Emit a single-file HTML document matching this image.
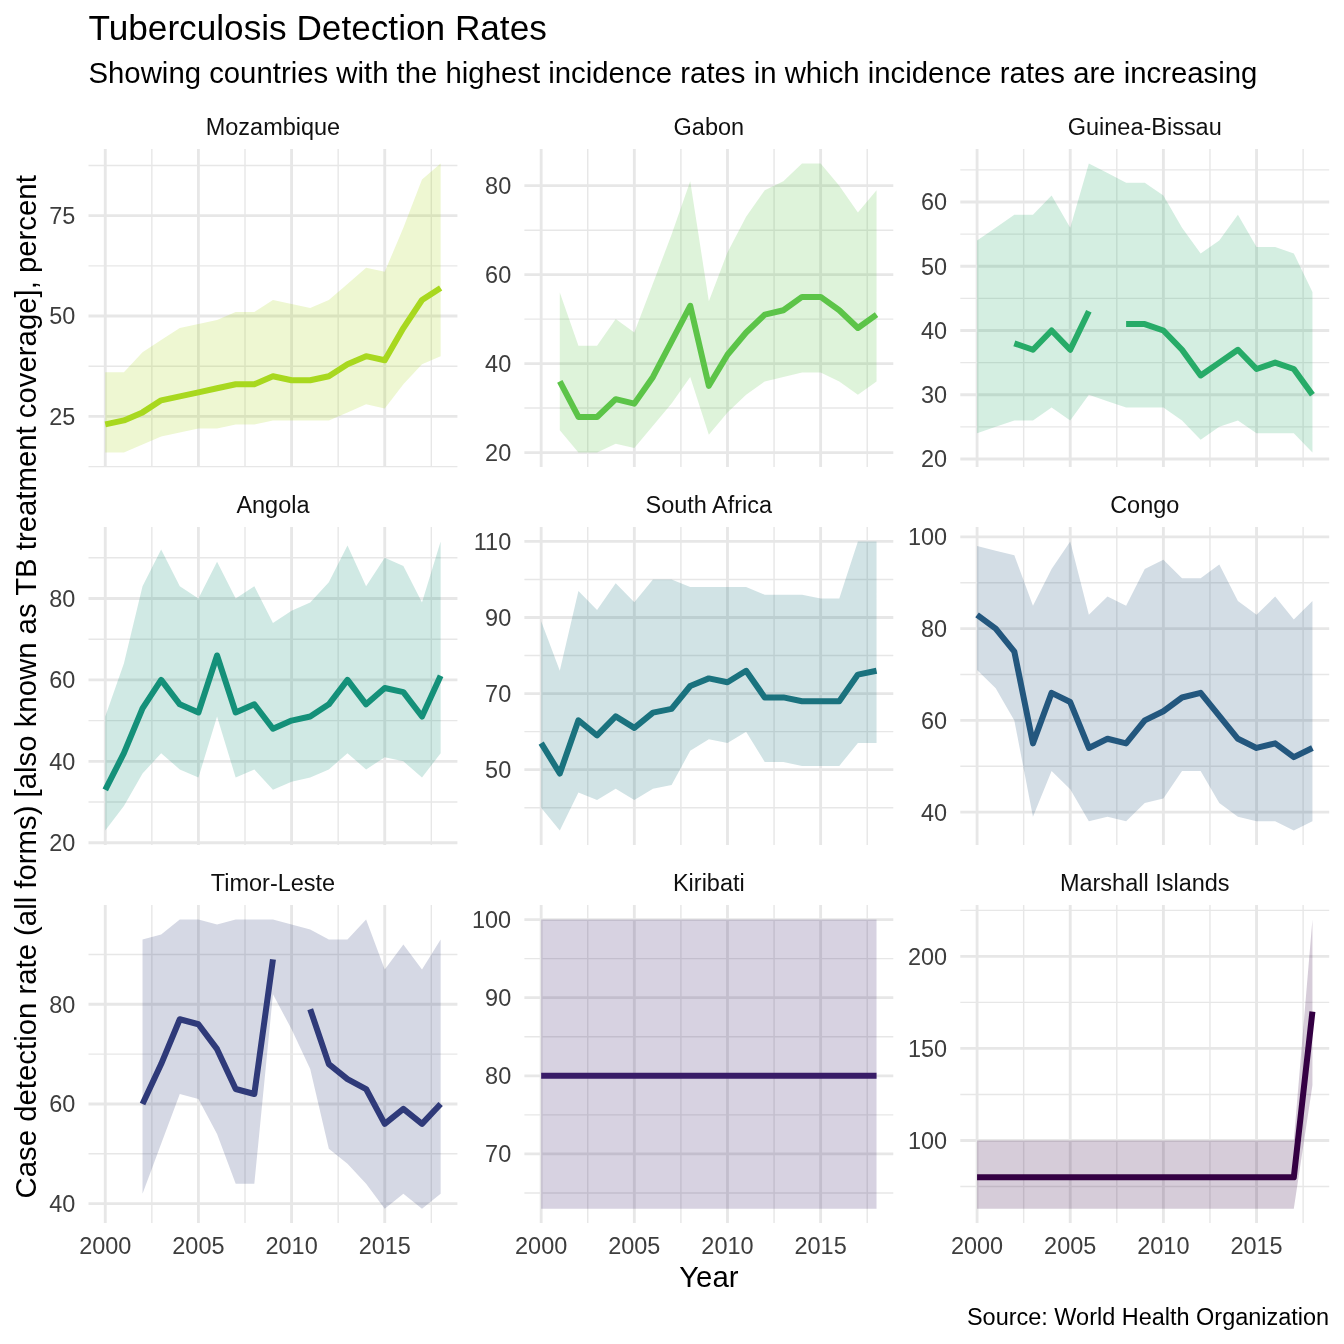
<!DOCTYPE html><html><head><meta charset="utf-8"><style>html,body{margin:0;padding:0;background:#fff;}svg{display:block;will-change:transform;}text{font-family:"Liberation Sans",sans-serif;}</style></head><body>
<svg width="1344" height="1344" viewBox="0 0 1344 1344">
<rect width="1344" height="1344" fill="#fff"/>
<g><line x1="88.5" x2="457.4" y1="466.6" y2="466.6" stroke="#E7E7E7" stroke-width="1.42"/><line x1="88.5" x2="457.4" y1="366.22" y2="366.22" stroke="#E7E7E7" stroke-width="1.42"/><line x1="88.5" x2="457.4" y1="265.84" y2="265.84" stroke="#E7E7E7" stroke-width="1.42"/><line x1="88.5" x2="457.4" y1="165.46" y2="165.46" stroke="#E7E7E7" stroke-width="1.42"/><line x1="151.85" x2="151.85" y1="149" y2="467" stroke="#E7E7E7" stroke-width="1.42"/><line x1="245" x2="245" y1="149" y2="467" stroke="#E7E7E7" stroke-width="1.42"/><line x1="338.16" x2="338.16" y1="149" y2="467" stroke="#E7E7E7" stroke-width="1.42"/><line x1="431.32" x2="431.32" y1="149" y2="467" stroke="#E7E7E7" stroke-width="1.42"/><line x1="88.5" x2="457.4" y1="416.41" y2="416.41" stroke="#E7E7E7" stroke-width="2.845"/><line x1="88.5" x2="457.4" y1="316.03" y2="316.03" stroke="#E7E7E7" stroke-width="2.845"/><line x1="88.5" x2="457.4" y1="215.65" y2="215.65" stroke="#E7E7E7" stroke-width="2.845"/><line x1="105.27" x2="105.27" y1="149" y2="467" stroke="#E7E7E7" stroke-width="2.845"/><line x1="198.42" x2="198.42" y1="149" y2="467" stroke="#E7E7E7" stroke-width="2.845"/><line x1="291.58" x2="291.58" y1="149" y2="467" stroke="#E7E7E7" stroke-width="2.845"/><line x1="384.74" x2="384.74" y1="149" y2="467" stroke="#E7E7E7" stroke-width="2.845"/><path d="M105.27,372.24 L123.9,372.24 L142.53,352.17 L161.16,340.12 L179.79,328.08 L198.42,324.06 L217.06,320.05 L235.69,312.02 L254.32,312.02 L272.95,299.97 L291.58,303.98 L310.21,308 L328.84,299.97 L347.48,283.91 L366.11,267.85 L384.74,271.86 L403.37,227.7 L422,179.52 L440.63,163.45 L440.63,356.18 L422,364.21 L403.37,384.29 L384.74,408.38 L366.11,404.36 L347.48,412.39 L328.84,420.42 L310.21,420.42 L291.58,420.42 L272.95,420.42 L254.32,424.44 L235.69,424.44 L217.06,428.45 L198.42,428.45 L179.79,432.47 L161.16,436.48 L142.53,444.52 L123.9,452.55 L105.27,452.55Z" fill="#A8D81F" fill-opacity="0.200"/><path d="M105.27,424.44 L123.9,420.42 L142.53,412.39 L161.16,400.35 L179.79,396.33 L198.42,392.32 L217.06,388.3 L235.69,384.29 L254.32,384.29 L272.95,376.26 L291.58,380.27 L310.21,380.27 L328.84,376.26 L347.48,364.21 L366.11,356.18 L384.74,360.2 L403.37,328.08 L422,299.97 L440.63,287.92" fill="none" stroke="#A8D81F" stroke-width="6.0" stroke-linejoin="round" stroke-linecap="butt"/><text x="75.3" y="424.81" font-size="23.47" fill="#3D3D3D" text-anchor="end">25</text><text x="75.3" y="324.43" font-size="23.47" fill="#3D3D3D" text-anchor="end">50</text><text x="75.3" y="224.05" font-size="23.47" fill="#3D3D3D" text-anchor="end">75</text><text x="272.95" y="135" font-size="23.47" fill="#101010" text-anchor="middle">Mozambique</text></g>
<g><line x1="524.4" x2="893.3" y1="408.07" y2="408.07" stroke="#E7E7E7" stroke-width="1.42"/><line x1="524.4" x2="893.3" y1="319.12" y2="319.12" stroke="#E7E7E7" stroke-width="1.42"/><line x1="524.4" x2="893.3" y1="230.17" y2="230.17" stroke="#E7E7E7" stroke-width="1.42"/><line x1="587.75" x2="587.75" y1="149" y2="467" stroke="#E7E7E7" stroke-width="1.42"/><line x1="680.9" x2="680.9" y1="149" y2="467" stroke="#E7E7E7" stroke-width="1.42"/><line x1="774.06" x2="774.06" y1="149" y2="467" stroke="#E7E7E7" stroke-width="1.42"/><line x1="867.22" x2="867.22" y1="149" y2="467" stroke="#E7E7E7" stroke-width="1.42"/><line x1="524.4" x2="893.3" y1="452.55" y2="452.55" stroke="#E7E7E7" stroke-width="2.845"/><line x1="524.4" x2="893.3" y1="363.59" y2="363.59" stroke="#E7E7E7" stroke-width="2.845"/><line x1="524.4" x2="893.3" y1="274.64" y2="274.64" stroke="#E7E7E7" stroke-width="2.845"/><line x1="524.4" x2="893.3" y1="185.69" y2="185.69" stroke="#E7E7E7" stroke-width="2.845"/><line x1="541.17" x2="541.17" y1="149" y2="467" stroke="#E7E7E7" stroke-width="2.845"/><line x1="634.32" x2="634.32" y1="149" y2="467" stroke="#E7E7E7" stroke-width="2.845"/><line x1="727.48" x2="727.48" y1="149" y2="467" stroke="#E7E7E7" stroke-width="2.845"/><line x1="820.64" x2="820.64" y1="149" y2="467" stroke="#E7E7E7" stroke-width="2.845"/><path d="M559.8,292.43 L578.43,345.8 L597.06,345.8 L615.69,319.12 L634.32,332.46 L652.96,283.54 L671.59,234.62 L690.22,181.24 L708.85,301.33 L727.48,252.41 L746.11,216.83 L764.74,190.14 L783.38,181.24 L802.01,163.45 L820.64,163.45 L839.27,185.69 L857.9,212.38 L876.53,190.14 L876.53,381.38 L857.9,394.73 L839.27,381.38 L820.64,372.49 L802.01,372.49 L783.38,376.94 L764.74,381.38 L746.11,394.73 L727.48,412.52 L708.85,434.76 L690.22,376.94 L671.59,403.62 L652.96,425.86 L634.32,448.1 L615.69,443.65 L597.06,452.55 L578.43,452.55 L559.8,430.31Z" fill="#5CC448" fill-opacity="0.200"/><path d="M559.8,381.38 L578.43,416.97 L597.06,416.97 L615.69,399.17 L634.32,403.62 L652.96,376.94 L671.59,341.36 L690.22,305.78 L708.85,385.83 L727.48,354.7 L746.11,332.46 L764.74,314.67 L783.38,310.22 L802.01,296.88 L820.64,296.88 L839.27,310.22 L857.9,328.01 L876.53,314.67" fill="none" stroke="#5CC448" stroke-width="6.0" stroke-linejoin="round" stroke-linecap="butt"/><text x="511.2" y="460.95" font-size="23.47" fill="#3D3D3D" text-anchor="end">20</text><text x="511.2" y="371.99" font-size="23.47" fill="#3D3D3D" text-anchor="end">40</text><text x="511.2" y="283.04" font-size="23.47" fill="#3D3D3D" text-anchor="end">60</text><text x="511.2" y="194.09" font-size="23.47" fill="#3D3D3D" text-anchor="end">80</text><text x="708.85" y="135" font-size="23.47" fill="#101010" text-anchor="middle">Gabon</text></g>
<g><line x1="960.3" x2="1329.2" y1="426.85" y2="426.85" stroke="#E7E7E7" stroke-width="1.42"/><line x1="960.3" x2="1329.2" y1="362.61" y2="362.61" stroke="#E7E7E7" stroke-width="1.42"/><line x1="960.3" x2="1329.2" y1="298.36" y2="298.36" stroke="#E7E7E7" stroke-width="1.42"/><line x1="960.3" x2="1329.2" y1="234.12" y2="234.12" stroke="#E7E7E7" stroke-width="1.42"/><line x1="960.3" x2="1329.2" y1="169.88" y2="169.88" stroke="#E7E7E7" stroke-width="1.42"/><line x1="1023.65" x2="1023.65" y1="149" y2="467" stroke="#E7E7E7" stroke-width="1.42"/><line x1="1116.8" x2="1116.8" y1="149" y2="467" stroke="#E7E7E7" stroke-width="1.42"/><line x1="1209.96" x2="1209.96" y1="149" y2="467" stroke="#E7E7E7" stroke-width="1.42"/><line x1="1303.12" x2="1303.12" y1="149" y2="467" stroke="#E7E7E7" stroke-width="1.42"/><line x1="960.3" x2="1329.2" y1="458.97" y2="458.97" stroke="#E7E7E7" stroke-width="2.845"/><line x1="960.3" x2="1329.2" y1="394.73" y2="394.73" stroke="#E7E7E7" stroke-width="2.845"/><line x1="960.3" x2="1329.2" y1="330.48" y2="330.48" stroke="#E7E7E7" stroke-width="2.845"/><line x1="960.3" x2="1329.2" y1="266.24" y2="266.24" stroke="#E7E7E7" stroke-width="2.845"/><line x1="960.3" x2="1329.2" y1="202" y2="202" stroke="#E7E7E7" stroke-width="2.845"/><line x1="977.07" x2="977.07" y1="149" y2="467" stroke="#E7E7E7" stroke-width="2.845"/><line x1="1070.22" x2="1070.22" y1="149" y2="467" stroke="#E7E7E7" stroke-width="2.845"/><line x1="1163.38" x2="1163.38" y1="149" y2="467" stroke="#E7E7E7" stroke-width="2.845"/><line x1="1256.54" x2="1256.54" y1="149" y2="467" stroke="#E7E7E7" stroke-width="2.845"/><path d="M977.07,240.55 L995.7,227.7 L1014.33,214.85 L1032.96,214.85 L1051.59,195.58 L1070.22,227.7 L1088.86,163.45 L1107.49,173.09 L1126.12,182.73 L1144.75,182.73 L1163.38,195.58 L1182.01,227.7 L1200.64,253.39 L1219.28,240.55 L1237.91,214.85 L1256.54,246.97 L1275.17,246.97 L1293.8,253.39 L1312.43,291.94 L1312.43,452.55 L1293.8,433.27 L1275.17,433.27 L1256.54,433.27 L1237.91,420.42 L1219.28,426.85 L1200.64,439.7 L1182.01,420.42 L1163.38,407.58 L1144.75,407.58 L1126.12,407.58 L1107.49,401.15 L1088.86,394.73 L1070.22,420.42 L1051.59,407.58 L1032.96,420.42 L1014.33,420.42 L995.7,426.85 L977.07,433.27Z" fill="#27AB68" fill-opacity="0.200"/><path d="M1014.33,343.33 L1032.96,349.76 L1051.59,330.48 L1070.22,349.76 L1088.86,311.21" fill="none" stroke="#27AB68" stroke-width="6.0" stroke-linejoin="round" stroke-linecap="butt"/><path d="M1126.12,324.06 L1144.75,324.06 L1163.38,330.48 L1182.01,349.76 L1200.64,375.45 L1219.28,362.61 L1237.91,349.76 L1256.54,369.03 L1275.17,362.61 L1293.8,369.03 L1312.43,394.73" fill="none" stroke="#27AB68" stroke-width="6.0" stroke-linejoin="round" stroke-linecap="butt"/><text x="947.1" y="467.37" font-size="23.47" fill="#3D3D3D" text-anchor="end">20</text><text x="947.1" y="403.13" font-size="23.47" fill="#3D3D3D" text-anchor="end">30</text><text x="947.1" y="338.88" font-size="23.47" fill="#3D3D3D" text-anchor="end">40</text><text x="947.1" y="274.64" font-size="23.47" fill="#3D3D3D" text-anchor="end">50</text><text x="947.1" y="210.4" font-size="23.47" fill="#3D3D3D" text-anchor="end">60</text><text x="1144.75" y="135" font-size="23.47" fill="#101010" text-anchor="middle">Guinea-Bissau</text></g>
<g><line x1="88.5" x2="457.4" y1="802.04" y2="802.04" stroke="#E7E7E7" stroke-width="1.42"/><line x1="88.5" x2="457.4" y1="720.61" y2="720.61" stroke="#E7E7E7" stroke-width="1.42"/><line x1="88.5" x2="457.4" y1="639.18" y2="639.18" stroke="#E7E7E7" stroke-width="1.42"/><line x1="88.5" x2="457.4" y1="557.74" y2="557.74" stroke="#E7E7E7" stroke-width="1.42"/><line x1="151.85" x2="151.85" y1="527" y2="845" stroke="#E7E7E7" stroke-width="1.42"/><line x1="245" x2="245" y1="527" y2="845" stroke="#E7E7E7" stroke-width="1.42"/><line x1="338.16" x2="338.16" y1="527" y2="845" stroke="#E7E7E7" stroke-width="1.42"/><line x1="431.32" x2="431.32" y1="527" y2="845" stroke="#E7E7E7" stroke-width="1.42"/><line x1="88.5" x2="457.4" y1="842.76" y2="842.76" stroke="#E7E7E7" stroke-width="2.845"/><line x1="88.5" x2="457.4" y1="761.33" y2="761.33" stroke="#E7E7E7" stroke-width="2.845"/><line x1="88.5" x2="457.4" y1="679.89" y2="679.89" stroke="#E7E7E7" stroke-width="2.845"/><line x1="88.5" x2="457.4" y1="598.46" y2="598.46" stroke="#E7E7E7" stroke-width="2.845"/><line x1="105.27" x2="105.27" y1="527" y2="845" stroke="#E7E7E7" stroke-width="2.845"/><line x1="198.42" x2="198.42" y1="527" y2="845" stroke="#E7E7E7" stroke-width="2.845"/><line x1="291.58" x2="291.58" y1="527" y2="845" stroke="#E7E7E7" stroke-width="2.845"/><line x1="384.74" x2="384.74" y1="527" y2="845" stroke="#E7E7E7" stroke-width="2.845"/><path d="M105.27,716.54 L123.9,663.61 L142.53,586.24 L161.16,549.6 L179.79,586.24 L198.42,598.46 L217.06,561.81 L235.69,598.46 L254.32,586.24 L272.95,622.89 L291.58,610.67 L310.21,602.53 L328.84,582.17 L347.48,545.53 L366.11,586.24 L384.74,557.74 L403.37,565.88 L422,602.53 L440.63,541.45 L440.63,753.18 L422,777.61 L403.37,761.33 L384.74,757.25 L366.11,769.47 L347.48,753.18 L328.84,769.47 L310.21,777.61 L291.58,781.69 L272.95,789.83 L254.32,769.47 L235.69,777.61 L217.06,716.54 L198.42,777.61 L179.79,769.47 L161.16,753.18 L142.53,773.54 L123.9,806.12 L105.27,830.55Z" fill="#149079" fill-opacity="0.200"/><path d="M105.27,789.83 L123.9,753.18 L142.53,708.39 L161.16,679.89 L179.79,704.32 L198.42,712.47 L217.06,655.46 L235.69,712.47 L254.32,704.32 L272.95,728.75 L291.58,720.61 L310.21,716.54 L328.84,704.32 L347.48,679.89 L366.11,704.32 L384.74,688.04 L403.37,692.11 L422,716.54 L440.63,675.82" fill="none" stroke="#149079" stroke-width="6.0" stroke-linejoin="round" stroke-linecap="butt"/><text x="75.3" y="851.16" font-size="23.47" fill="#3D3D3D" text-anchor="end">20</text><text x="75.3" y="769.73" font-size="23.47" fill="#3D3D3D" text-anchor="end">40</text><text x="75.3" y="688.29" font-size="23.47" fill="#3D3D3D" text-anchor="end">60</text><text x="75.3" y="606.86" font-size="23.47" fill="#3D3D3D" text-anchor="end">80</text><text x="272.95" y="513" font-size="23.47" fill="#101010" text-anchor="middle">Angola</text></g>
<g><line x1="524.4" x2="893.3" y1="807.72" y2="807.72" stroke="#E7E7E7" stroke-width="1.42"/><line x1="524.4" x2="893.3" y1="731.65" y2="731.65" stroke="#E7E7E7" stroke-width="1.42"/><line x1="524.4" x2="893.3" y1="655.57" y2="655.57" stroke="#E7E7E7" stroke-width="1.42"/><line x1="524.4" x2="893.3" y1="579.49" y2="579.49" stroke="#E7E7E7" stroke-width="1.42"/><line x1="587.75" x2="587.75" y1="527" y2="845" stroke="#E7E7E7" stroke-width="1.42"/><line x1="680.9" x2="680.9" y1="527" y2="845" stroke="#E7E7E7" stroke-width="1.42"/><line x1="774.06" x2="774.06" y1="527" y2="845" stroke="#E7E7E7" stroke-width="1.42"/><line x1="867.22" x2="867.22" y1="527" y2="845" stroke="#E7E7E7" stroke-width="1.42"/><line x1="524.4" x2="893.3" y1="769.68" y2="769.68" stroke="#E7E7E7" stroke-width="2.845"/><line x1="524.4" x2="893.3" y1="693.61" y2="693.61" stroke="#E7E7E7" stroke-width="2.845"/><line x1="524.4" x2="893.3" y1="617.53" y2="617.53" stroke="#E7E7E7" stroke-width="2.845"/><line x1="524.4" x2="893.3" y1="541.45" y2="541.45" stroke="#E7E7E7" stroke-width="2.845"/><line x1="541.17" x2="541.17" y1="527" y2="845" stroke="#E7E7E7" stroke-width="2.845"/><line x1="634.32" x2="634.32" y1="527" y2="845" stroke="#E7E7E7" stroke-width="2.845"/><line x1="727.48" x2="727.48" y1="527" y2="845" stroke="#E7E7E7" stroke-width="2.845"/><line x1="820.64" x2="820.64" y1="527" y2="845" stroke="#E7E7E7" stroke-width="2.845"/><path d="M541.17,621.33 L559.8,670.78 L578.43,590.9 L597.06,609.92 L615.69,583.3 L634.32,602.32 L652.96,579.49 L671.59,579.49 L690.22,587.1 L708.85,587.1 L727.48,587.1 L746.11,587.1 L764.74,594.71 L783.38,594.71 L802.01,594.71 L820.64,598.51 L839.27,598.51 L857.9,541.45 L876.53,541.45 L876.53,743.06 L857.9,743.06 L839.27,765.88 L820.64,765.88 L802.01,765.88 L783.38,762.08 L764.74,762.08 L746.11,731.65 L727.48,743.06 L708.85,739.25 L690.22,750.67 L671.59,784.9 L652.96,788.7 L634.32,800.11 L615.69,788.7 L597.06,800.11 L578.43,792.51 L559.8,830.55 L541.17,807.72Z" fill="#1A727E" fill-opacity="0.200"/><path d="M541.17,743.06 L559.8,773.49 L578.43,720.23 L597.06,735.45 L615.69,716.43 L634.32,727.84 L652.96,712.63 L671.59,708.82 L690.22,686 L708.85,678.39 L727.48,682.2 L746.11,670.78 L764.74,697.41 L783.38,697.41 L802.01,701.22 L820.64,701.22 L839.27,701.22 L857.9,674.59 L876.53,670.78" fill="none" stroke="#1A727E" stroke-width="6.0" stroke-linejoin="round" stroke-linecap="butt"/><text x="511.2" y="778.08" font-size="23.47" fill="#3D3D3D" text-anchor="end">50</text><text x="511.2" y="702.01" font-size="23.47" fill="#3D3D3D" text-anchor="end">70</text><text x="511.2" y="625.93" font-size="23.47" fill="#3D3D3D" text-anchor="end">90</text><text x="511.2" y="549.85" font-size="23.47" fill="#3D3D3D" text-anchor="end">110</text><text x="708.85" y="513" font-size="23.47" fill="#101010" text-anchor="middle">South Africa</text></g>
<g><line x1="960.3" x2="1329.2" y1="766.3" y2="766.3" stroke="#E7E7E7" stroke-width="1.42"/><line x1="960.3" x2="1329.2" y1="674.53" y2="674.53" stroke="#E7E7E7" stroke-width="1.42"/><line x1="960.3" x2="1329.2" y1="582.75" y2="582.75" stroke="#E7E7E7" stroke-width="1.42"/><line x1="1023.65" x2="1023.65" y1="527" y2="845" stroke="#E7E7E7" stroke-width="1.42"/><line x1="1116.8" x2="1116.8" y1="527" y2="845" stroke="#E7E7E7" stroke-width="1.42"/><line x1="1209.96" x2="1209.96" y1="527" y2="845" stroke="#E7E7E7" stroke-width="1.42"/><line x1="1303.12" x2="1303.12" y1="527" y2="845" stroke="#E7E7E7" stroke-width="1.42"/><line x1="960.3" x2="1329.2" y1="812.19" y2="812.19" stroke="#E7E7E7" stroke-width="2.845"/><line x1="960.3" x2="1329.2" y1="720.42" y2="720.42" stroke="#E7E7E7" stroke-width="2.845"/><line x1="960.3" x2="1329.2" y1="628.64" y2="628.64" stroke="#E7E7E7" stroke-width="2.845"/><line x1="960.3" x2="1329.2" y1="536.87" y2="536.87" stroke="#E7E7E7" stroke-width="2.845"/><line x1="977.07" x2="977.07" y1="527" y2="845" stroke="#E7E7E7" stroke-width="2.845"/><line x1="1070.22" x2="1070.22" y1="527" y2="845" stroke="#E7E7E7" stroke-width="2.845"/><line x1="1163.38" x2="1163.38" y1="527" y2="845" stroke="#E7E7E7" stroke-width="2.845"/><line x1="1256.54" x2="1256.54" y1="527" y2="845" stroke="#E7E7E7" stroke-width="2.845"/><path d="M977.07,546.04 L995.7,550.63 L1014.33,555.22 L1032.96,605.7 L1051.59,568.99 L1070.22,541.45 L1088.86,614.87 L1107.49,596.52 L1126.12,605.7 L1144.75,568.99 L1163.38,559.81 L1182.01,578.16 L1200.64,578.16 L1219.28,564.4 L1237.91,601.11 L1256.54,614.87 L1275.17,596.52 L1293.8,619.46 L1312.43,601.11 L1312.43,821.37 L1293.8,830.55 L1275.17,821.37 L1256.54,821.37 L1237.91,816.78 L1219.28,803.01 L1200.64,770.89 L1182.01,770.89 L1163.38,798.42 L1144.75,803.01 L1126.12,821.37 L1107.49,816.78 L1088.86,821.37 L1070.22,789.25 L1051.59,770.89 L1032.96,816.78 L1014.33,720.42 L995.7,688.29 L977.07,669.94Z" fill="#23577E" fill-opacity="0.200"/><path d="M977.07,614.87 L995.7,628.64 L1014.33,651.58 L1032.96,743.36 L1051.59,692.88 L1070.22,702.06 L1088.86,747.95 L1107.49,738.77 L1126.12,743.36 L1144.75,720.42 L1163.38,711.24 L1182.01,697.47 L1200.64,692.88 L1219.28,715.83 L1237.91,738.77 L1256.54,747.95 L1275.17,743.36 L1293.8,757.13 L1312.43,747.95" fill="none" stroke="#23577E" stroke-width="6.0" stroke-linejoin="round" stroke-linecap="butt"/><text x="947.1" y="820.59" font-size="23.47" fill="#3D3D3D" text-anchor="end">40</text><text x="947.1" y="728.82" font-size="23.47" fill="#3D3D3D" text-anchor="end">60</text><text x="947.1" y="637.04" font-size="23.47" fill="#3D3D3D" text-anchor="end">80</text><text x="947.1" y="545.27" font-size="23.47" fill="#3D3D3D" text-anchor="end">100</text><text x="1144.75" y="513" font-size="23.47" fill="#101010" text-anchor="middle">Congo</text></g>
<g><line x1="88.5" x2="457.4" y1="1153.82" y2="1153.82" stroke="#E7E7E7" stroke-width="1.42"/><line x1="88.5" x2="457.4" y1="1054.13" y2="1054.13" stroke="#E7E7E7" stroke-width="1.42"/><line x1="88.5" x2="457.4" y1="954.44" y2="954.44" stroke="#E7E7E7" stroke-width="1.42"/><line x1="151.85" x2="151.85" y1="905.1" y2="1223.1" stroke="#E7E7E7" stroke-width="1.42"/><line x1="245" x2="245" y1="905.1" y2="1223.1" stroke="#E7E7E7" stroke-width="1.42"/><line x1="338.16" x2="338.16" y1="905.1" y2="1223.1" stroke="#E7E7E7" stroke-width="1.42"/><line x1="431.32" x2="431.32" y1="905.1" y2="1223.1" stroke="#E7E7E7" stroke-width="1.42"/><line x1="88.5" x2="457.4" y1="1203.66" y2="1203.66" stroke="#E7E7E7" stroke-width="2.845"/><line x1="88.5" x2="457.4" y1="1103.97" y2="1103.97" stroke="#E7E7E7" stroke-width="2.845"/><line x1="88.5" x2="457.4" y1="1004.29" y2="1004.29" stroke="#E7E7E7" stroke-width="2.845"/><line x1="105.27" x2="105.27" y1="905.1" y2="1223.1" stroke="#E7E7E7" stroke-width="2.845"/><line x1="198.42" x2="198.42" y1="905.1" y2="1223.1" stroke="#E7E7E7" stroke-width="2.845"/><line x1="291.58" x2="291.58" y1="905.1" y2="1223.1" stroke="#E7E7E7" stroke-width="2.845"/><line x1="384.74" x2="384.74" y1="905.1" y2="1223.1" stroke="#E7E7E7" stroke-width="2.845"/><path d="M142.53,939.49 L161.16,934.51 L179.79,919.55 L198.42,919.55 L217.06,924.54 L235.69,919.55 L254.32,919.55 L272.95,919.55 L291.58,924.54 L310.21,929.52 L328.84,939.49 L347.48,939.49 L366.11,919.55 L384.74,969.4 L403.37,944.48 L422,969.4 L440.63,939.49 L440.63,1193.69 L422,1208.65 L403.37,1193.69 L384.74,1208.65 L366.11,1183.72 L347.48,1163.79 L328.84,1148.83 L310.21,1069.08 L291.58,1029.21 L272.95,994.32 L254.32,1183.72 L235.69,1183.72 L217.06,1133.88 L198.42,1098.99 L179.79,1094.01 L161.16,1143.85 L142.53,1193.69Z" fill="#2F3A79" fill-opacity="0.200"/><path d="M142.53,1103.97 L161.16,1064.1 L179.79,1019.24 L198.42,1024.23 L217.06,1049.15 L235.69,1089.02 L254.32,1094.01 L272.95,959.43" fill="none" stroke="#2F3A79" stroke-width="6.0" stroke-linejoin="round" stroke-linecap="butt"/><path d="M310.21,1009.27 L328.84,1064.1 L347.48,1079.05 L366.11,1089.02 L384.74,1123.91 L403.37,1108.96 L422,1123.91 L440.63,1103.97" fill="none" stroke="#2F3A79" stroke-width="6.0" stroke-linejoin="round" stroke-linecap="butt"/><text x="75.3" y="1212.06" font-size="23.47" fill="#3D3D3D" text-anchor="end">40</text><text x="75.3" y="1112.37" font-size="23.47" fill="#3D3D3D" text-anchor="end">60</text><text x="75.3" y="1012.69" font-size="23.47" fill="#3D3D3D" text-anchor="end">80</text><text x="272.95" y="891.1" font-size="23.47" fill="#101010" text-anchor="middle">Timor-Leste</text><text x="105.27" y="1254.2" font-size="23.47" fill="#3D3D3D" text-anchor="middle">2000</text><text x="198.42" y="1254.2" font-size="23.47" fill="#3D3D3D" text-anchor="middle">2005</text><text x="291.58" y="1254.2" font-size="23.47" fill="#3D3D3D" text-anchor="middle">2010</text><text x="384.74" y="1254.2" font-size="23.47" fill="#3D3D3D" text-anchor="middle">2015</text></g>
<g><line x1="524.4" x2="893.3" y1="1193.02" y2="1193.02" stroke="#E7E7E7" stroke-width="1.42"/><line x1="524.4" x2="893.3" y1="1114.89" y2="1114.89" stroke="#E7E7E7" stroke-width="1.42"/><line x1="524.4" x2="893.3" y1="1036.75" y2="1036.75" stroke="#E7E7E7" stroke-width="1.42"/><line x1="524.4" x2="893.3" y1="958.62" y2="958.62" stroke="#E7E7E7" stroke-width="1.42"/><line x1="587.75" x2="587.75" y1="905.1" y2="1223.1" stroke="#E7E7E7" stroke-width="1.42"/><line x1="680.9" x2="680.9" y1="905.1" y2="1223.1" stroke="#E7E7E7" stroke-width="1.42"/><line x1="774.06" x2="774.06" y1="905.1" y2="1223.1" stroke="#E7E7E7" stroke-width="1.42"/><line x1="867.22" x2="867.22" y1="905.1" y2="1223.1" stroke="#E7E7E7" stroke-width="1.42"/><line x1="524.4" x2="893.3" y1="1153.95" y2="1153.95" stroke="#E7E7E7" stroke-width="2.845"/><line x1="524.4" x2="893.3" y1="1075.82" y2="1075.82" stroke="#E7E7E7" stroke-width="2.845"/><line x1="524.4" x2="893.3" y1="997.69" y2="997.69" stroke="#E7E7E7" stroke-width="2.845"/><line x1="524.4" x2="893.3" y1="919.55" y2="919.55" stroke="#E7E7E7" stroke-width="2.845"/><line x1="541.17" x2="541.17" y1="905.1" y2="1223.1" stroke="#E7E7E7" stroke-width="2.845"/><line x1="634.32" x2="634.32" y1="905.1" y2="1223.1" stroke="#E7E7E7" stroke-width="2.845"/><line x1="727.48" x2="727.48" y1="905.1" y2="1223.1" stroke="#E7E7E7" stroke-width="2.845"/><line x1="820.64" x2="820.64" y1="905.1" y2="1223.1" stroke="#E7E7E7" stroke-width="2.845"/><path d="M541.17,919.55 L559.8,919.55 L578.43,919.55 L597.06,919.55 L615.69,919.55 L634.32,919.55 L652.96,919.55 L671.59,919.55 L690.22,919.55 L708.85,919.55 L727.48,919.55 L746.11,919.55 L764.74,919.55 L783.38,919.55 L802.01,919.55 L820.64,919.55 L839.27,919.55 L857.9,919.55 L876.53,919.55 L876.53,1208.65 L857.9,1208.65 L839.27,1208.65 L820.64,1208.65 L802.01,1208.65 L783.38,1208.65 L764.74,1208.65 L746.11,1208.65 L727.48,1208.65 L708.85,1208.65 L690.22,1208.65 L671.59,1208.65 L652.96,1208.65 L634.32,1208.65 L615.69,1208.65 L597.06,1208.65 L578.43,1208.65 L559.8,1208.65 L541.17,1208.65Z" fill="#381C67" fill-opacity="0.200"/><path d="M541.17,1075.82 L559.8,1075.82 L578.43,1075.82 L597.06,1075.82 L615.69,1075.82 L634.32,1075.82 L652.96,1075.82 L671.59,1075.82 L690.22,1075.82 L708.85,1075.82 L727.48,1075.82 L746.11,1075.82 L764.74,1075.82 L783.38,1075.82 L802.01,1075.82 L820.64,1075.82 L839.27,1075.82 L857.9,1075.82 L876.53,1075.82" fill="none" stroke="#381C67" stroke-width="6.0" stroke-linejoin="round" stroke-linecap="butt"/><text x="511.2" y="1162.35" font-size="23.47" fill="#3D3D3D" text-anchor="end">70</text><text x="511.2" y="1084.22" font-size="23.47" fill="#3D3D3D" text-anchor="end">80</text><text x="511.2" y="1006.09" font-size="23.47" fill="#3D3D3D" text-anchor="end">90</text><text x="511.2" y="927.95" font-size="23.47" fill="#3D3D3D" text-anchor="end">100</text><text x="708.85" y="891.1" font-size="23.47" fill="#101010" text-anchor="middle">Kiribati</text><text x="541.17" y="1254.2" font-size="23.47" fill="#3D3D3D" text-anchor="middle">2000</text><text x="634.32" y="1254.2" font-size="23.47" fill="#3D3D3D" text-anchor="middle">2005</text><text x="727.48" y="1254.2" font-size="23.47" fill="#3D3D3D" text-anchor="middle">2010</text><text x="820.64" y="1254.2" font-size="23.47" fill="#3D3D3D" text-anchor="middle">2015</text></g>
<g><line x1="960.3" x2="1329.2" y1="1186.55" y2="1186.55" stroke="#E7E7E7" stroke-width="1.42"/><line x1="960.3" x2="1329.2" y1="1094.48" y2="1094.48" stroke="#E7E7E7" stroke-width="1.42"/><line x1="960.3" x2="1329.2" y1="1002.41" y2="1002.41" stroke="#E7E7E7" stroke-width="1.42"/><line x1="960.3" x2="1329.2" y1="910.35" y2="910.35" stroke="#E7E7E7" stroke-width="1.42"/><line x1="1023.65" x2="1023.65" y1="905.1" y2="1223.1" stroke="#E7E7E7" stroke-width="1.42"/><line x1="1116.8" x2="1116.8" y1="905.1" y2="1223.1" stroke="#E7E7E7" stroke-width="1.42"/><line x1="1209.96" x2="1209.96" y1="905.1" y2="1223.1" stroke="#E7E7E7" stroke-width="1.42"/><line x1="1303.12" x2="1303.12" y1="905.1" y2="1223.1" stroke="#E7E7E7" stroke-width="1.42"/><line x1="960.3" x2="1329.2" y1="1140.52" y2="1140.52" stroke="#E7E7E7" stroke-width="2.845"/><line x1="960.3" x2="1329.2" y1="1048.45" y2="1048.45" stroke="#E7E7E7" stroke-width="2.845"/><line x1="960.3" x2="1329.2" y1="956.38" y2="956.38" stroke="#E7E7E7" stroke-width="2.845"/><line x1="977.07" x2="977.07" y1="905.1" y2="1223.1" stroke="#E7E7E7" stroke-width="2.845"/><line x1="1070.22" x2="1070.22" y1="905.1" y2="1223.1" stroke="#E7E7E7" stroke-width="2.845"/><line x1="1163.38" x2="1163.38" y1="905.1" y2="1223.1" stroke="#E7E7E7" stroke-width="2.845"/><line x1="1256.54" x2="1256.54" y1="905.1" y2="1223.1" stroke="#E7E7E7" stroke-width="2.845"/><path d="M977.07,1140.52 L995.7,1140.52 L1014.33,1140.52 L1032.96,1140.52 L1051.59,1140.52 L1070.22,1140.52 L1088.86,1140.52 L1107.49,1140.52 L1126.12,1140.52 L1144.75,1140.52 L1163.38,1140.52 L1182.01,1140.52 L1200.64,1140.52 L1219.28,1140.52 L1237.91,1140.52 L1256.54,1140.52 L1275.17,1140.52 L1293.8,1140.52 L1312.43,919.55 L1312.43,1085.28 L1293.8,1208.65 L1275.17,1208.65 L1256.54,1208.65 L1237.91,1208.65 L1219.28,1208.65 L1200.64,1208.65 L1182.01,1208.65 L1163.38,1208.65 L1144.75,1208.65 L1126.12,1208.65 L1107.49,1208.65 L1088.86,1208.65 L1070.22,1208.65 L1051.59,1208.65 L1032.96,1208.65 L1014.33,1208.65 L995.7,1208.65 L977.07,1208.65Z" fill="#340043" fill-opacity="0.200"/><path d="M977.07,1177.34 L995.7,1177.34 L1014.33,1177.34 L1032.96,1177.34 L1051.59,1177.34 L1070.22,1177.34 L1088.86,1177.34 L1107.49,1177.34 L1126.12,1177.34 L1144.75,1177.34 L1163.38,1177.34 L1182.01,1177.34 L1200.64,1177.34 L1219.28,1177.34 L1237.91,1177.34 L1256.54,1177.34 L1275.17,1177.34 L1293.8,1177.34 L1312.43,1011.62" fill="none" stroke="#340043" stroke-width="6.0" stroke-linejoin="round" stroke-linecap="butt"/><text x="947.1" y="1148.92" font-size="23.47" fill="#3D3D3D" text-anchor="end">100</text><text x="947.1" y="1056.85" font-size="23.47" fill="#3D3D3D" text-anchor="end">150</text><text x="947.1" y="964.78" font-size="23.47" fill="#3D3D3D" text-anchor="end">200</text><text x="1144.75" y="891.1" font-size="23.47" fill="#101010" text-anchor="middle">Marshall Islands</text><text x="977.07" y="1254.2" font-size="23.47" fill="#3D3D3D" text-anchor="middle">2000</text><text x="1070.22" y="1254.2" font-size="23.47" fill="#3D3D3D" text-anchor="middle">2005</text><text x="1163.38" y="1254.2" font-size="23.47" fill="#3D3D3D" text-anchor="middle">2010</text><text x="1256.54" y="1254.2" font-size="23.47" fill="#3D3D3D" text-anchor="middle">2015</text></g>
<text x="88.5" y="40.0" font-size="35.2" fill="#000">Tuberculosis Detection Rates</text>
<text x="88.5" y="82.8" font-size="29.33" fill="#000">Showing countries with the highest incidence rates in which incidence rates are increasing</text>
<text x="708.85" y="1287.1" font-size="29.33" fill="#000" text-anchor="middle">Year</text>
<text transform="translate(35.9,686.8) rotate(-90)" x="0" y="0" font-size="29.33" fill="#000" text-anchor="middle">Case detection rate (all forms) [also known as TB treatment coverage], percent</text>
<text x="1329.2" y="1325.2" font-size="23.47" fill="#000" text-anchor="end">Source: World Health Organization</text>
</svg></body></html>
